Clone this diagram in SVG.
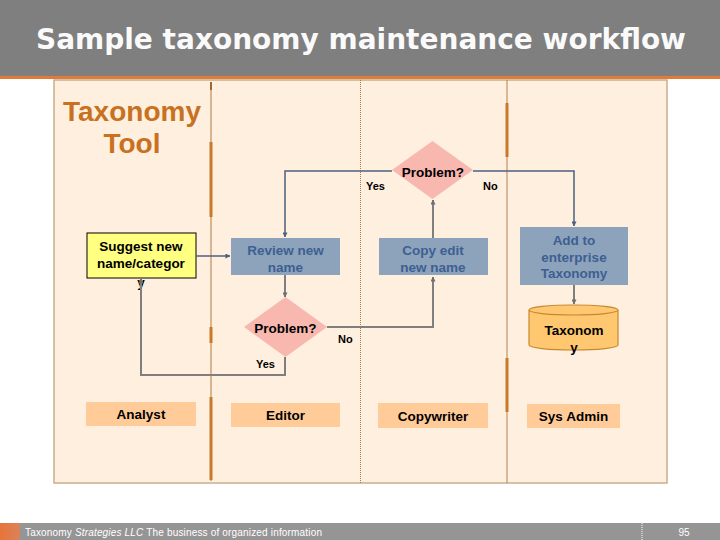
<svg xmlns="http://www.w3.org/2000/svg" width="720" height="540" viewBox="0 0 720 540">
<defs>
<style>
.t{font-family:"Liberation Sans",Arial,sans-serif;font-weight:bold;font-size:13.5px;text-anchor:middle;fill:#000}
.bt{fill:#3D5F92}
.lbl{font-family:"Liberation Sans",Arial,sans-serif;font-weight:bold;font-size:11px;fill:#000}
.box{fill:#8DA3BB}
.lane{fill:#FFCC99}
.dia{fill:#F8B8B0}
.c1{fill:none;stroke:#4E6080;stroke-width:1.5}
.c2{fill:none;stroke:#7F7F7F;stroke-width:2}
</style>
<marker id="ah" viewBox="0 0 6 6" refX="5.5" refY="3" markerWidth="5" markerHeight="5" orient="auto" markerUnits="userSpaceOnUse">
<path d="M0,0 L6,3 L0,6 z" fill="#4E6080"/>
</marker>
<marker id="ag" viewBox="0 0 6 6" refX="5.5" refY="3" markerWidth="5" markerHeight="5" orient="auto" markerUnits="userSpaceOnUse">
<path d="M0,0 L6,3 L0,6 z" fill="#6F6F6F"/>
</marker>
<linearGradient id="fq" x1="0" y1="0" x2="1" y2="0">
<stop offset="0" stop-color="#E8743A"/>
<stop offset="1" stop-color="#D9825A"/>
</linearGradient>
</defs>
<rect width="720" height="540" fill="#FFFFFF"/>
<g id="header">
<rect x="0" y="0" width="720" height="76" fill="#7F7F7F"/>
<rect x="0" y="76" width="720" height="3" fill="#E07B39"/>
<text x="361" y="49" font-family="DejaVu Sans,Verdana,sans-serif" font-weight="bold" font-size="28" fill="#FAFAFA" text-anchor="middle">Sample taxonomy maintenance workflow</text>
</g>
<g id="panel">
<rect x="54" y="80" width="613" height="403" fill="#FEEFDF" stroke="#C9AE8C" stroke-width="1.5"/>
<line x1="211" y1="82" x2="211" y2="481" stroke="#B07A40" stroke-width="1"/>
<line x1="211" y1="82" x2="211" y2="90" stroke="#9A6A30" stroke-width="2"/>
<line x1="211" y1="142" x2="211" y2="217" stroke="#C87A2A" stroke-width="3"/>
<line x1="211" y1="327" x2="211" y2="343" stroke="#C87A2A" stroke-width="3"/>
<line x1="211" y1="397" x2="211" y2="480" stroke="#C87A2A" stroke-width="3"/>
<line x1="360.5" y1="80" x2="360.5" y2="483" stroke="#A87848" stroke-width="1" stroke-dasharray="1,1"/>
<line x1="507" y1="80" x2="507" y2="483" stroke="#B08050" stroke-width="1"/>
<line x1="507" y1="103" x2="507" y2="157" stroke="#C87A2A" stroke-width="3"/>
<line x1="507" y1="358" x2="507" y2="412" stroke="#C87A2A" stroke-width="3"/>
<text x="132" y="121" font-family="Liberation Sans,Arial,sans-serif" font-weight="bold" font-size="28" fill="#C8711F" text-anchor="middle">Taxonomy</text>
<text x="132" y="153" font-family="Liberation Sans,Arial,sans-serif" font-weight="bold" font-size="28" fill="#C8711F" text-anchor="middle">Tool</text>
</g>
<g id="problem-top">
<polygon class="dia" points="432.5,141 473,170 432.5,199 392,170"/>
<text class="t" x="433" y="177">Problem?</text>
</g>
<g id="suggest">
<rect x="87" y="233" width="109" height="45" fill="#FFFF80" stroke="#000" stroke-width="1"/>
<text class="t" x="141" y="251">Suggest new</text>
<text class="t" x="141" y="268">name/categor</text>
<text class="t" x="141" y="287">y</text>
</g>
<g id="review">
<rect class="box" x="231" y="238" width="109" height="37"/>
<text class="t bt" x="285.5" y="255">Review new</text>
<text class="t bt" x="285.5" y="272">name</text>
</g>
<g id="copyedit">
<rect class="box" x="379" y="238" width="109" height="37"/>
<text class="t bt" x="433" y="255">Copy edit</text>
<text class="t bt" x="433" y="272">new name</text>
</g>
<g id="addto">
<rect class="box" x="520" y="227" width="108" height="58"/>
<text class="t bt" x="574" y="245">Add to</text>
<text class="t bt" x="574" y="262">enterprise</text>
<text class="t bt" x="574" y="278">Taxonomy</text>
</g>
<g id="problem-editor">
<polygon class="dia" points="285.5,297 327,327 285.5,357 244,327"/>
<text class="t" x="285.5" y="333">Problem?</text>
</g>
<g id="taxonomy-db">
<path d="M529,310 L529,345 A44.5,5 0 0 0 618,345 L618,310" fill="#FFC870" stroke="#C88830" stroke-width="1.2"/>
<ellipse cx="573.5" cy="310" rx="44.5" ry="5" fill="#FFC870" stroke="#C88830" stroke-width="1.2"/>
<text class="t" x="574" y="335">Taxonom</text>
<text class="t" x="574" y="352">y</text>
</g>
<g id="lane-analyst">
<rect class="lane" x="86" y="402" width="110" height="24"/>
<text class="t" x="141" y="419">Analyst</text>
</g>
<g id="lane-editor">
<rect class="lane" x="231" y="403" width="109" height="24"/>
<text class="t" x="285.5" y="420">Editor</text>
</g>
<g id="lane-copywriter">
<rect class="lane" x="378" y="403" width="110" height="25"/>
<text class="t" x="433" y="421">Copywriter</text>
</g>
<g id="lane-sysadmin">
<rect class="lane" x="527" y="404" width="93" height="24"/>
<text class="t" x="573.5" y="421">Sys Admin</text>
</g>
<g id="connectors">
<polyline class="c1" points="392,171 285,171 285,237" marker-end="url(#ah)"/>
<polyline class="c1" points="473,171 574,171 574,226" marker-end="url(#ah)"/>
<line class="c1" x1="196" y1="256" x2="230" y2="256" marker-end="url(#ah)"/>
<line class="c2" x1="285" y1="275" x2="285" y2="297" marker-end="url(#ag)"/>
<polyline class="c2" points="327,327 433,327 433,277" marker-end="url(#ag)"/>
<line class="c2" x1="433" y1="238" x2="433" y2="200" marker-end="url(#ag)"/>
<polyline class="c2" points="285,357 285,375 141,375 141,279" marker-end="url(#ag)"/>
<line class="c2" x1="574" y1="285" x2="574" y2="304" marker-end="url(#ag)"/>
<text class="lbl" x="366" y="190">Yes</text>
<text class="lbl" x="483" y="190">No</text>
<text class="lbl" x="338" y="343">No</text>
<text class="lbl" x="256" y="368">Yes</text>
</g>
<g id="footer">
<rect x="0" y="523" width="720" height="17" fill="#959595"/>
<rect x="0" y="523" width="20" height="17" fill="url(#fq)"/>
<line x1="642" y1="523" x2="642" y2="540" stroke="#FFFFFF" stroke-width="1" stroke-dasharray="1,1"/>
<text x="25" y="536" font-family="Liberation Sans,Arial,sans-serif" font-size="10" fill="#FFFFFF" textLength="297" lengthAdjust="spacing">Taxonomy <tspan font-style="italic">Strategies LLC</tspan>   The business of organized information</text>
<text x="684" y="536" font-family="Liberation Sans,Arial,sans-serif" font-size="10" fill="#FFFFFF" text-anchor="middle">95</text>
</g>
</svg>
